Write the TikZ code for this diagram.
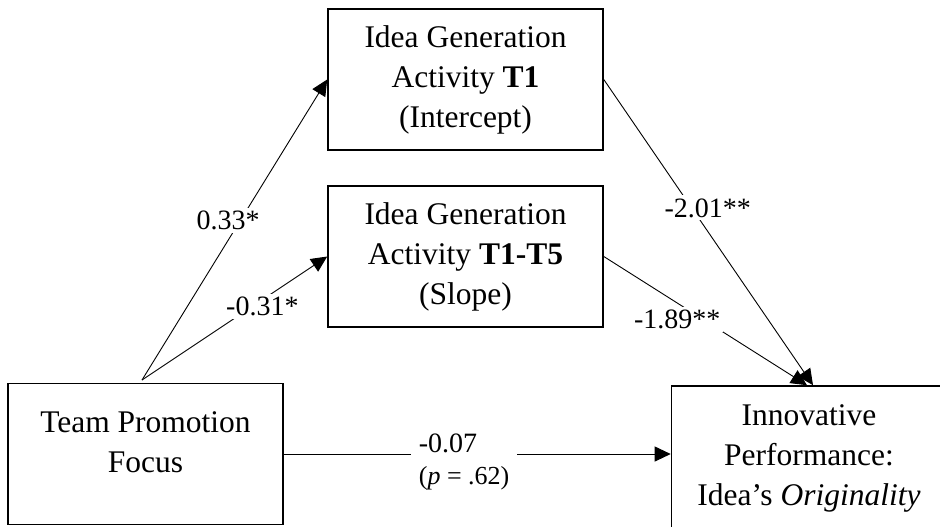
\documentclass[tikz,border=0pt]{standalone}
\usepackage{fontspec}
\setmainfont{Liberation Serif}
\usetikzlibrary{arrows.meta,positioning,calc}
\tikzset{
  varbox/.style={draw,line width=0.8pt,minimum width=137.5pt,minimum height=70.5pt,
    inner sep=0pt,align=center,font=\fontsize{15.75}{20}\selectfont},
  coef/.style={fill=white,inner sep=1.5pt,font=\fontsize{14}{17}\selectfont},
}

\begin{document}
\begin{tikzpicture}[x=0.5pt,y=-0.5pt]
\clip (0,0) rectangle (940,526);
\node[varbox] (TPF) at (145.5,454) {Team Promotion\\Focus\rule[-12pt]{0pt}{12pt}};
\node[varbox] (IGT1) at (465.5,79.5) {Idea Generation\\Activity \textbf{T1}\\(Intercept)};
\node[varbox] (IGS) at (465.5,256.5) {Idea Generation\\Activity \textbf{T1-T5}\\(Slope)};
\node[varbox,minimum height=72pt] (IPO) at (809,458)
  {Innovative\\Performance:\\Idea’s \textit{Originality}};
\coordinate (fork) at (142,380);
\coordinate (tipA) at ($(IPO.north)+(4,0)$);
\coordinate (tipB) at ($(IPO.north)+(-2,0)$);
\path[-{Triangle[length=8pt,width=7.5pt]},line width=0.45pt]
(fork) edge node[coef,pos=.53,xshift=-6pt] {0.33*} (IGT1.west)
(fork) edge node[coef,pos=.65,yshift=-3.5pt] {-0.31*} (IGS.west)
(IGT1.east) edge node[coef,pos=.42,xshift=8pt] {-2.01**} (tipA)
(IGS.east) edge node[coef,pos=.45,xshift=-9pt,yshift=-2.5pt] {-1.89**} (tipB)
(TPF.east) edge node[coef,inner xsep=4pt,align=left,pos=.466,yshift=-4pt]
  {-0.07\\[-1pt]{\fontsize{13}{15}\selectfont(\textit{p} = .62)}} (TPF.east -| IPO.west);
\end{tikzpicture}
\end{document}
